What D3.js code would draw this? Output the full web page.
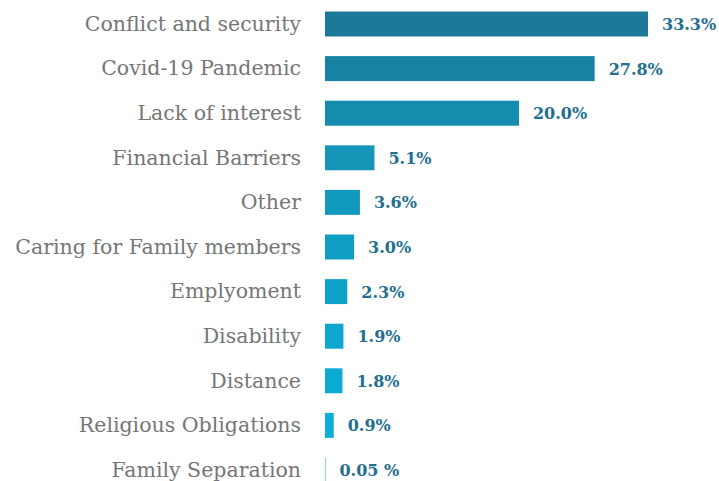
<!DOCTYPE html>
<html>
<head>
<meta charset="utf-8">
<script src="https://cdn.jsdelivr.net/npm/d3@7"></script>
<style>
  html, body { margin: 0; padding: 0; background: #ffffff; }
  svg { display: block; }
</style>
</head>
<body>
<svg id="chart" width="719" height="481"></svg>
<script>
// Reasons reported, share of respondents (%)
const categories = [
  "Conflict and security",
  "Covid-19 Pandemic",
  "Lack of interest",
  "Financial Barriers",
  "Other",
  "Caring for Family members",
  "Emplyoment",
  "Disability",
  "Distance",
  "Religious Obligations",
  "Family Separation"
];
const values = [33.3, 27.8, 20.0, 5.1, 3.6, 3.0, 2.3, 1.9, 1.8, 0.9, 0.05];
const valueLabels = ["33.3%", "27.8%", "20.0%", "5.1%", "3.6%", "3.0%", "2.3%", "1.9%", "1.8%", "0.9%", "0.05 %"];

const svg = d3.select("#chart");
const serif = "'DejaVu Serif', 'Liberation Serif', serif";

const x = d3.scaleLinear().domain([0, 33.3]).range([325, 648]);
const y = d3.scaleBand()
  .domain(categories)
  .range([1.7, 492.3])
  .paddingInner(0.44)
  .paddingOuter(0.22);

// Bars shade from deep teal at the top to bright cyan further down
const color = d3.scaleLinear()
  .domain([0, 1, 2, 3, 5, 9])
  .range(["#1b7896", "#1683a3", "#138cae", "#1596b8", "#0f9dc4", "#0ab0d8"])
  .clamp(true);

const rows = categories.map((c, i) => ({ c, v: values[i], label: valueLabels[i], i }));

svg.append("g").selectAll("rect")
  .data(rows)
  .join("rect")
  .attr("x", x(0))
  .attr("y", d => y(d.c))
  .attr("width", d => Math.max(x(d.v) - x(0), 1))
  .attr("height", y.bandwidth())
  .attr("fill", d => d.v < 0.5 ? "#8fd3e6" : color(d.i));

// Category labels, right-aligned against the bars
svg.append("g").selectAll("text")
  .data(rows)
  .join("text")
  .attr("x", 301)
  .attr("y", d => y(d.c) + y.bandwidth() / 2)
  .attr("dy", "0.33em")
  .attr("text-anchor", "end")
  .attr("font-family", serif)
  .attr("font-size", 20.5)
  .attr("fill", "#767676")
  .text(d => d.c);

// Value labels after each bar
svg.append("g").selectAll("text")
  .data(rows)
  .join("text")
  .attr("x", d => x(d.v) + 14)
  .attr("y", d => y(d.c) + y.bandwidth() / 2)
  .attr("dy", "0.38em")
  .attr("font-family", serif)
  .attr("font-weight", "bold")
  .attr("font-size", 16)
  .attr("fill", "#236f8d")
  .text(d => d.label);
</script>
</body>
</html>
